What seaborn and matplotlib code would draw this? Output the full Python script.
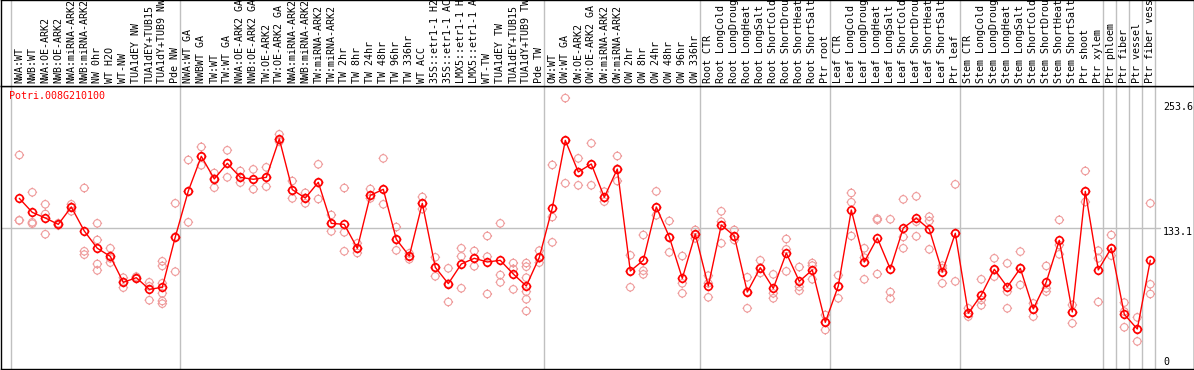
import numpy as np
import pandas as pd
import matplotlib
matplotlib.use("Agg")
import matplotlib.pyplot as plt
from matplotlib.path import Path
import seaborn as sns

# =========================
# DATA
# =========================
gene_id = "Potri.008G210100"

sample_labels = [
    "NWA:WT", "NWB:WT", "NWA:OE-ARK2", "NWB:OE-ARK2", "NWA:miRNA-ARK2",
    "NWB:miRNA-ARK2", "NW 0hr", "WT H2O", "WT-NW", "TUA1dEY NW",
    "TUA1dEY+TUB15", "TUA1dY+TUB9 NW", "Pde NW",
    "NWA:WT GA", "NWBWT GA", "TW:WT", "TW:WT GA", "NWA:OE-ARK2 GA",
    "NWB:OE-ARK2 GA", "TW:OE-ARK2", "TW:OE-ARK2 GA", "NWA:miRNA-ARK2",
    "NWB:miRNA-ARK2", "TW:miRNA-ARK2", "TW:miRNA-ARK2", "TW 2hr", "TW 8hr",
    "TW 24hr", "TW 48hr", "TW 96hr", "TW 336hr", "WT ACC", "35S::etr1-1 H2",
    "35S::etr1-1 AC", "LMX5::etr1-1 H", "LMX5::etr1-1 A", "WT-TW",
    "TUA1dEY TW", "TUA1dEY+TUB15", "TUA1dY+TUB9 TW", "Pde TW",
    "OW:WT", "OW:WT GA", "OW:OE-ARK2", "OW:OE-ARK2 GA", "OW:miRNA-ARK2",
    "OW:miRNA-ARK2", "OW 2hr", "OW 8hr", "OW 24hr", "OW 48hr", "OW 96hr",
    "OW 336hr",
    "Root CTR", "Root LongCold", "Root LongDroug", "Root LongHeat",
    "Root LongSalt", "Root ShortCold", "Root ShortDrou", "Root ShortHeat",
    "Root ShortSalt", "Ptr root",
    "Leaf CTR", "Leaf LongCold", "Leaf LongDroug", "Leaf LongHeat",
    "Leaf LongSalt", "Leaf ShortCold", "Leaf ShortDrou", "Leaf ShortHeat",
    "Leaf ShortSalt", "Ptr leaf",
    "Stem CTR", "Stem LongCold", "Stem LongDroug", "Stem LongHeat",
    "Stem LongSalt", "Stem ShortCold", "Stem ShortDrou", "Stem ShortHeat",
    "Stem ShortSalt", "Ptr shoot",
    "Ptr xylem", "Ptr phloem", "Ptr fiber", "Ptr vessel", "Ptr fiber vess",
]

mean_values = [
    160.6, 147.6, 142.4, 136.5, 152.6, 130.3, 114.3, 106.8, 82.7, 87.0,
    76.2, 78.1, 124.8,
    167.4, 199.6, 178.6, 193.1, 180.1, 178.3, 180.1, 215.7, 168.7, 160.9,
    175.5, 137.4, 136.5, 114.3, 163.4, 169.0, 122.6, 107.1, 156.0, 96.6,
    81.5, 99.7, 105.0, 101.6, 103.1, 90.4, 79.3, 105.9,
    151.7, 214.4, 185.1, 192.5, 161.6, 187.8, 93.2, 103.1, 152.6, 124.8,
    86.4, 127.5,
    79.3, 135.9, 125.7, 73.7, 96.3, 77.1, 109.9, 83.6, 94.2, 45.6,
    79.3, 149.8, 101.6, 123.8, 95.1, 133.1, 142.1, 131.9, 92.3, 128.2,
    54.0, 71.0, 94.8, 78.4, 95.7, 58.0, 83.0, 121.7, 55.2, 167.1,
    94.2, 114.6, 53.0, 39.4, 103.1,
]

replicate_values = [
    [200.8, 140.2, 140.2], [166.2, 138.4, 137.1], [155.1, 146.1, 127.3],
    [135.5, 136.5, 137.5], [155.1, 148.6, 152.6], [170.2, 111.5, 108.4],
    [137.4, 122.0, 99.7, 93.8], [114.3, 101.0, 105.0], [87.0, 77.8, 83.0],
    [86.0, 87.0, 88.0], [82.7, 66.1, 79.0],
    [102.2, 97.9, 81.8, 72.5, 65.4, 62.9], [156.0, 92.6, 125.0],
    [196.2, 138.4, 167.0], [208.3, 191.3, 199.0], [184.1, 170.5, 179.0],
    [205.2, 180.1, 193.0], [186.0, 175.2, 180.0], [187.5, 169.1, 178.0],
    [189.4, 171.5, 180.0], [220.0, 213.2, 215.0], [176.7, 160.6, 168.0],
    [165.7, 156.0, 161.0], [192.2, 160.0, 175.0], [145.2, 130.0, 137.0],
    [170.2, 129.1, 111.5], [118.9, 109.9, 114.0], [169.3, 160.6, 163.0],
    [197.7, 155.1, 169.0], [134.0, 112.4, 122.0], [109.6, 104.1, 107.0],
    [161.9, 150.7, 156.0], [105.9, 88.3, 96.0], [95.7, 64.5, 81.5],
    [114.3, 106.8, 77.2], [111.8, 97.6, 105.0], [125.7, 106.5, 71.9],
    [137.4, 89.5, 82.7], [100.6, 95.1, 76.2],
    [100.6, 97.2, 87.0, 74.1, 67.0, 56.1], [112.1, 101.0, 105.0],
    [191.6, 143.3, 119.8], [253.6, 174.6, 214.0], [197.7, 172.7, 185.0],
    [211.7, 172.7, 192.0], [166.8, 157.6, 161.0], [199.9, 176.7, 188.0],
    [107.8, 78.1, 93.0], [126.6, 93.5, 90.1], [167.1, 144.9, 152.0],
    [139.6, 110.5, 124.0], [107.1, 81.8, 72.5], [131.3, 123.5, 127.0],
    [88.9, 81.8, 68.8], [148.6, 139.0, 118.9], [131.3, 122.0, 125.0],
    [87.4, 58.6, 74.0], [103.1, 91.4, 96.0], [90.1, 72.5, 67.9],
    [122.9, 113.3, 92.9], [96.9, 78.7, 75.0], [100.6, 98.2, 85.5],
    [52.4, 38.5, 46.0], [89.2, 67.9, 79.0], [165.6, 157.0, 125.7],
    [114.3, 105.6, 85.5], [141.8, 140.6, 90.4], [141.2, 73.7, 67.6],
    [159.7, 124.8, 114.3], [162.5, 139.0, 125.4], [143.6, 139.6, 113.3],
    [98.2, 95.7, 81.8], [173.6, 83.6, 128.0], [58.6, 50.9, 54.0],
    [85.5, 66.3, 61.4], [105.0, 88.0, 94.0], [100.3, 74.1, 58.6],
    [111.2, 80.3, 96.0], [63.2, 50.9, 58.0], [97.9, 77.2, 74.1],
    [140.6, 117.3, 108.7], [61.7, 44.7, 55.0], [186.0, 157.3, 167.0],
    [112.1, 105.0, 64.5], [126.6, 107.5, 114.0], [63.9, 55.6, 41.0],
    [50.2, 27.9, 39.0], [156.0, 80.9, 71.9],
]

# first column of each group (divider lines sit just left of these)
group_starts = [0, 13, 41, 53, 63, 73, 84, 85, 86, 87, 88]

y_ticks = [0, 133.1, 253.6]

# =========================
# DATAFRAMES
# =========================
n = len(sample_labels)
mean_df = pd.DataFrame({"sample": np.arange(n), "value": mean_values})
rep_df = pd.DataFrame(
    [(i, v) for i, reps in enumerate(replicate_values) for v in reps],
    columns=["sample", "value"],
)

# =========================
# MARKER (circle with 4 small ticks)
# =========================
circle = Path.circle((0, 0), 1.0)
ticks = Path(
    [(0, 1.0), (0, 1.3), (0, -1.0), (0, -1.3),
     (1.0, 0), (1.3, 0), (-1.0, 0), (-1.3, 0)],
    [Path.MOVETO, Path.LINETO] * 4,
)
tick_circle = Path.make_compound_path(circle, ticks)

# =========================
# FIGURE
# =========================
sns.set_theme(style="white")
plt.rcParams["font.family"] = ["DejaVu Sans Mono", "DejaVu Sans"]

W, H = 1194, 370
fig = plt.figure(figsize=(W / 100, H / 100), dpi=100)

top_px = 85.5
bot_px = 369.0
ax = fig.add_axes([1 / W, (H - bot_px) / H, (W - 1) / W, (bot_px - top_px) / H])
ax_lab = fig.add_axes([1 / W, (H - top_px) / H, (W - 1) / W, top_px / H], sharex=ax)

x_left = (1 - 19.3) / 13
x_right = (W - 19.3) / 13
ax.set_xlim(x_left, x_right)
ax.set_ylim(2.3, 265.3)

grey = "#c0c0c0"
for s in group_starts:
    ax.axvline(s - 0.615, color=grey, lw=1, zorder=0)
    ax_lab.axvline(s - 0.615, color=grey, lw=1, zorder=0)

ax.axhline(y_ticks[1], xmax=(1160 - 1) / (W - 1), color=grey, lw=1, zorder=0)

# replicates
sns.scatterplot(data=rep_df, x="sample", y="value", ax=ax,
                marker=tick_circle, s=48, facecolors="none",
                edgecolor="#ef9c9c", linewidth=0.8, zorder=2, legend=False)

# means
sns.lineplot(data=mean_df, x="sample", y="value", ax=ax, color="#ff0000",
             lw=1, marker=tick_circle, markersize=7.0, markerfacecolor="none",
             markeredgecolor="#ff0000", markeredgewidth=1.2, zorder=3,
             legend=False)

# =========================
# AXES STYLE
# =========================
for a in (ax, ax_lab):
    a.set_xticks([])
    a.set_yticks([])
    a.set_xlabel("")
    a.set_ylabel("")
    for sp in a.spines.values():
        sp.set_color("black")
        sp.set_linewidth(1)
ax_lab.set_ylim(0, 1)

# sample labels, rotated
for i, lab in enumerate(sample_labels):
    ax_lab.text(i, 0.025, lab, rotation=90, ha="center", va="bottom",
                fontsize=7.2, color="black")

# right-side value labels
tick_offsets = [9.8, -4.4, -9.0]
for v, off in zip(y_ticks, tick_offsets):
    ax.annotate(f"{v:g}", xy=((1163 - 1) / (W - 1), v),
                xycoords=ax.get_yaxis_transform(),
                xytext=(0, off), textcoords="offset pixels",
                ha="left", va="center", fontsize=7.2, color="black")

fig.text(9 / W, 1 - 96 / H, gene_id, ha="left", va="center",
         fontsize=7.2, color="#ff0000")

plt.savefig("out.png", dpi=100)
